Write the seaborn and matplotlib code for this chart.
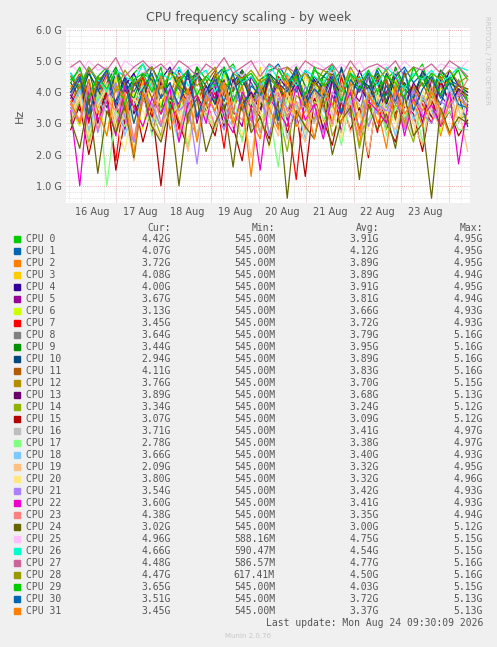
import numpy as np
import pandas as pd
import matplotlib
matplotlib.use("Agg")
import matplotlib.pyplot as plt
import seaborn as sns
from matplotlib.ticker import MultipleLocator

# legend table values
cpu_names = [f"CPU {i}" for i in range(32)]
cur = ["4.42G", "4.07G", "3.72G", "4.08G", "4.00G", "3.67G", "3.13G", "3.45G", "3.64G", "3.44G",
       "2.94G", "4.11G", "3.76G", "3.89G", "3.34G", "3.07G", "3.71G", "2.78G", "3.66G", "2.09G",
       "3.80G", "3.54G", "3.60G", "4.38G", "3.02G", "4.96G", "4.66G", "4.48G", "4.47G", "3.65G",
       "3.51G", "3.45G"]
mins = ["545.00M"] * 25 + ["588.16M", "590.47M", "586.57M", "617.41M", "545.00M", "545.00M", "545.00M"]
avgs = ["3.91G", "4.12G", "3.89G", "3.89G", "3.91G", "3.81G", "3.66G", "3.72G", "3.79G", "3.95G",
        "3.89G", "3.83G", "3.70G", "3.68G", "3.24G", "3.09G", "3.41G", "3.38G", "3.40G", "3.32G",
        "3.32G", "3.42G", "3.41G", "3.35G", "3.00G", "4.75G", "4.54G", "4.77G", "4.50G", "4.03G",
        "3.72G", "3.37G"]
maxs = ["4.95G", "4.95G", "4.95G", "4.94G", "4.95G", "4.94G", "4.93G", "4.93G", "5.16G", "5.16G",
        "5.16G", "5.16G", "5.15G", "5.13G", "5.12G", "5.12G", "4.97G", "4.97G", "4.93G", "4.95G",
        "4.96G", "4.93G", "4.93G", "4.94G", "5.12G", "5.15G", "5.15G", "5.16G", "5.16G", "5.15G",
        "5.13G", "5.13G"]
colors = ["#00CC00", "#0066B3", "#FF8000", "#FFCC00", "#330099", "#990099", "#CCFF00", "#FF0000",
          "#808080", "#008F00", "#00487D", "#B35A00", "#B38F00", "#6B006B", "#8FB300", "#B30000",
          "#BEBEBE", "#80FF80", "#80C9FF", "#FFC080", "#FFE680", "#AA80FF", "#EE00CC", "#FF8080",
          "#666600", "#FFBFFF", "#00FFCC", "#CC6699", "#999900", "#00CC00", "#0066B3", "#FF8000"]

# hand-read traces, tenths of GHz, evenly spaced from 16 Aug 01:00 to 24 Aug 09:30
traces = [
    "44 47 39 45 48 41 36 46 49 43 38 47 45 40 48 44 37 46 49 42 45 39 47 48 41 44 36 47 45 49 40 46 43 38 48 44 47 41 45 49 39 46 42 48 44",
    "46 41 48 43 37 47 45 40 46 48 42 39 47 44 46 36 45 48 41 47 43 38 46 49 44 40 47 42 45 48 37 46 44 41 47 39 45 48 43 46 40 47 44 42 41",
    "33 41 27 38 45 30 36 24 43 35 29 40 46 32 26 39 44 28 37 42 31 25 41 36 46 29 34 40 27 44 33 38 23 42 30 36 45 28 39 34 41 26 37 43 37",
    "42 36 47 40 33 45 38 30 44 41 35 47 39 32 46 37 43 29 45 40 36 48 34 42 38 31 46 39 44 35 41 47 33 40 37 45 32 43 38 46 36 41 44 39 41",
    "40 45 37 43 47 35 42 46 39 33 44 48 41 37 45 40 46 34 43 47 38 42 36 45 41 48 35 44 39 46 42 37 47 40 43 36 45 41 38 46 44 39 47 42 40",
    "38 44 31 40 46 35 28 43 39 45 33 41 36 47 30 42 38 44 34 29 45 40 36 43 31 46 38 42 35 44 27 41 37 45 33 40 46 36 42 30 44 39 35 41 37",
    "35 29 42 37 26 44 33 40 28 45 36 31 43 38 25 41 34 46 30 39 35 27 44 32 40 36 29 43 37 31 45 34 28 41 38 33 44 30 39 35 42 27 40 36 31",
    "36 42 30 44 38 18 41 35 45 32 39 43 28 37 46 34 40 22 44 36 31 42 38 45 33 12 40 37 43 29 45 35 41 38 27 44 33 39 42 36 30 43 37 40 35",
    "39 45 34 41 47 36 30 44 40 35 46 38 42 31 45 39 37 43 33 47 40 36 44 29 41 46 38 35 42 48 37 40 33 45 39 44 36 41 34 46 38 42 37 44 36",
    "45 40 47 36 43 48 41 38 46 44 34 47 42 39 48 37 45 43 40 47 35 44 46 41 38 48 42 36 45 43 47 39 44 41 46 37 48 42 40 45 38 47 43 41 34",
    "43 38 46 41 35 47 40 44 37 48 42 33 45 39 46 42 36 47 41 44 38 34 46 43 40 47 37 45 41 35 48 39 44 42 36 46 40 43 38 47 41 36 45 39 29",
    "41 46 36 43 39 47 34 42 45 38 44 32 46 40 37 43 47 35 41 45 39 33 44 42 38 46 36 43 40 47 34 42 45 37 41 44 31 46 39 43 36 45 40 42 41",
    "37 42 32 45 39 29 43 36 40 46 33 38 44 30 41 35 46 39 34 42 28 44 37 40 33 45 38 31 43 36 41 46 32 39 44 35 40 30 42 37 45 33 39 41 38",
    "39 34 44 30 41 37 45 33 40 27 43 38 35 46 32 39 42 29 44 36 40 34 45 31 38 43 36 41 28 44 39 33 42 37 45 30 40 35 43 38 32 44 36 41 39",
    "30 37 24 35 41 28 33 20 39 34 26 40 31 23 38 35 29 42 32 25 37 40 27 34 21 39 36 30 41 26 33 38 22 35 40 28 36 32 24 39 34 29 37 31 33",
    "28 36 20 33 40 15 31 38 24 35 10 37 30 22 39 33 26 41 29 18 36 32 25 40 27 34 13 38 31 23 37 28 35 19 40 30 24 36 33 21 38 29 34 26 31",
    "34 40 27 37 43 31 36 24 41 35 29 42 33 38 26 40 34 30 43 36 28 39 32 41 25 37 35 30 42 33 27 40 36 31 38 29 43 34 26 39 35 32 41 30 37",
    "32 38 25 40 10 34 29 37 42 26 35 31 39 22 41 33 28 36 40 24 37 30 34 16 39 35 27 42 31 36 23 38 33 29 41 26 35 32 37 24 40 30 34 28 28",
    "35 41 28 38 33 43 26 36 40 30 42 34 24 39 37 31 43 33 29 40 35 27 41 38 32 36 25 42 34 30 39 37 28 41 33 36 26 40 31 38 34 29 42 35 37",
    "31 38 22 36 41 27 33 18 39 30 25 40 34 21 37 32 28 42 29 35 19 38 33 26 40 31 24 37 35 29 41 27 34 20 39 32 28 36 30 23 38 33 27 35 21",
    "33 39 26 36 42 30 21 38 34 28 41 32 36 24 40 35 29 43 31 26 38 34 22 41 33 37 27 40 30 35 25 42 32 28 39 34 30 37 26 41 33 29 38 31 38",
    "35 30 41 27 38 43 32 24 40 36 29 42 34 37 17 41 33 28 39 36 31 43 26 38 35 30 42 33 27 40 37 32 44 29 36 34 39 28 41 33 30 37 35 40 35",
    "34 10 40 31 37 26 42 35 29 38 33 41 24 36 39 30 43 32 27 40 35 15 38 34 29 42 31 36 25 39 33 40 28 37 34 30 41 26 38 32 36 29 40 17 36",
    "36 31 42 28 38 34 40 25 37 43 30 35 26 41 33 38 29 42 34 31 39 27 36 40 32 37 28 41 35 30 43 33 26 38 36 31 40 29 37 34 42 30 36 39 44",
    "31 22 38 14 34 27 36 19 40 29 24 35 10 33 38 21 30 36 16 39 27 32 23 37 6 34 29 25 38 20 31 35 12 36 28 33 22 39 26 30 6 35 27 32 30",
    "49 46 50 47 48 45 50 48 46 49 47 50 45 48 49 46 50 47 48 45 49 50 46 48 47 49 45 50 48 46 49 47 50 45 48 49 46 50 47 48 46 49 48 47 50",
    "46 42 48 44 40 47 45 43 49 41 46 44 48 42 45 47 40 46 48 43 45 41 49 44 46 42 47 45 43 48 40 46 44 47 42 48 45 41 46 44 47 43 45 48 47",
    "48 50 46 49 47 51 45 48 50 47 49 46 50 48 45 49 47 51 46 48 50 45 49 47 48 46 50 48 47 49 45 50 46 48 49 47 50 45 48 47 49 46 50 48 45",
    "45 42 48 44 46 40 47 43 45 48 41 46 44 47 42 45 48 40 46 44 47 43 45 41 48 44 46 42 47 45 40 48 43 46 44 47 41 45 48 42 46 44 47 43 45",
    "43 48 38 45 41 47 36 44 46 40 48 35 43 47 39 45 42 48 37 44 46 41 36 47 43 45 39 48 42 44 37 46 41 47 40 45 43 38 48 42 46 39 44 47 37",
    "40 45 33 42 47 36 44 30 41 46 38 43 35 47 32 40 44 37 46 34 42 39 45 31 43 47 36 41 38 45 33 44 40 46 35 42 37 47 34 41 45 38 43 36 35",
    "37 30 44 34 26 42 38 20 40 33 45 28 36 41 24 39 34 43 30 37 13 42 35 28 44 32 38 25 41 36 30 43 27 39 35 22 42 33 37 29 40 34 26 38 35",
]

x_start, x_end = 16.04, 24.40  # day-of-month floats

fig = plt.figure(figsize=(4.97, 6.47), dpi=100, facecolor="#F0F0F0")
ax = fig.add_axes([66 / 497, 1 - 203 / 647, 404 / 497, 175 / 647])
ax.set_facecolor("white")

rows = []
for name, tr in zip(cpu_names, traces):
    vals = [int(v) / 10 for v in tr.split()]
    t = np.linspace(x_start, x_end, len(vals))
    rows.append(pd.DataFrame({"day": t, "hz": vals, "cpu": name}))
df = pd.concat(rows)

sns.lineplot(data=df, x="day", y="hz", hue="cpu", palette=colors, hue_order=cpu_names,
             linewidth=0.9, legend=False, ax=ax, estimator=None)

ax.set_xlim(15.94, 24.45)
ax.set_ylim(0.45, 6.05)
ax.yaxis.set_minor_locator(MultipleLocator(0.2))
ax.set_yticks([1, 2, 3, 4, 5, 6])
ax.set_yticklabels(["1.0 G", "2.0 G", "3.0 G", "4.0 G", "5.0 G", "6.0 G"])
ax.xaxis.set_minor_locator(MultipleLocator(0.25))
ax.set_xticks([d + 0.5 for d in range(16, 24)])
ax.set_xticklabels([f"{d} Aug" for d in range(16, 24)])
for d in range(17, 25):
    ax.axvline(d, color="#E8A0A0", lw=0.6, ls=(0, (1, 1.5)), zorder=0)
for h in range(1, 7):
    ax.axhline(h, color="#E8A0A0", lw=0.6, ls=(0, (1, 1.5)), zorder=0)
ax.grid(which="minor", color="#D0D0D0", lw=0.5, ls=(0, (1, 1.5)))
ax.set_axisbelow(True)
ax.tick_params(axis="both", which="both", length=0, labelsize=7, colors="#555555", pad=3)
for s in ax.spines.values():
    s.set_visible(False)
ax.set_xlabel("")
ax.set_ylabel("Hz", fontsize=8, color="#555555", labelpad=8)

fig.text(0.5, 1 - 18 / 647, "CPU frequency scaling - by week", ha="center", va="center",
         fontsize=9, color="#555555")
fig.text(487 / 497, 1 - 60 / 647, "RRDTOOL / TOBI OETIKER", rotation=270, ha="center", va="center",
         fontsize=5, color="#C8C8C8")

mono = dict(family="DejaVu Sans Mono", fontsize=7, color="#555555", va="center")
def fy(py):
    return 1 - py / 647

fig.text(171 / 497, fy(228), "Cur:", ha="right", **mono)
fig.text(275 / 497, fy(228), "Min:", ha="right", **mono)
fig.text(379 / 497, fy(228), "Avg:", ha="right", **mono)
fig.text(483 / 497, fy(228), "Max:", ha="right", **mono)
for i, name in enumerate(cpu_names):
    py = 239 + i * 12
    fig.patches.append(plt.Rectangle((14 / 497, fy(py + 3)), 6 / 497, 6 / 647, color=colors[i],
                                     transform=fig.transFigure, figure=fig))
    fig.text(26 / 497, fy(py), name, ha="left", **mono)
    fig.text(171 / 497, fy(py), cur[i], ha="right", **mono)
    fig.text(275 / 497, fy(py), mins[i], ha="right", **mono)
    fig.text(379 / 497, fy(py), avgs[i], ha="right", **mono)
    fig.text(483 / 497, fy(py), maxs[i], ha="right", **mono)
fig.text(483 / 497, fy(623), "Last update: Mon Aug 24 09:30:09 2026", ha="right", **mono)
fig.text(248 / 497, fy(636), "Munin 2.0.76", ha="center", va="center", fontsize=5, color="#C8C8C8")

fig.savefig("out.png", dpi=100, facecolor=fig.get_facecolor())
